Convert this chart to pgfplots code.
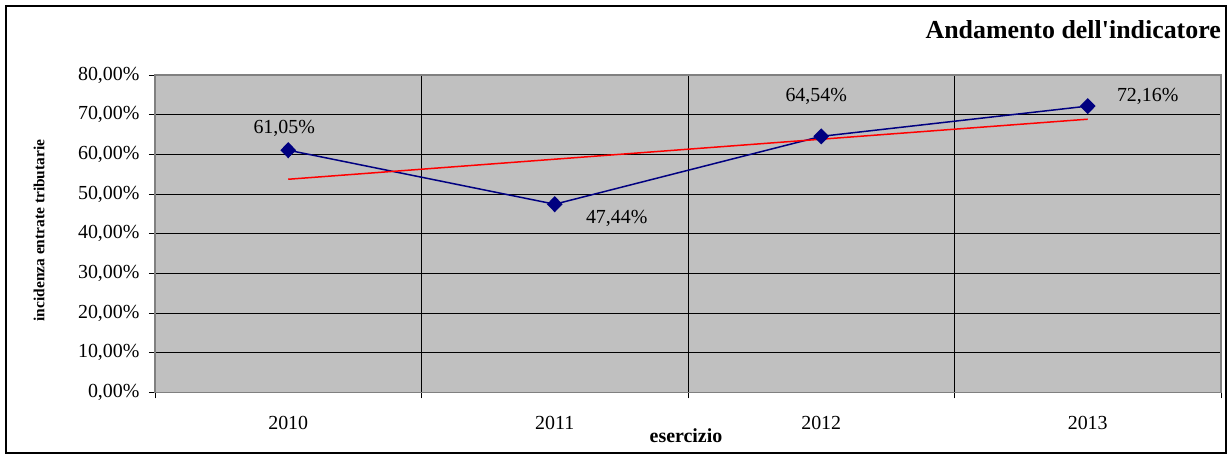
\documentclass[border=0pt]{standalone}
\usepackage{fontspec}
\setmainfont{Liberation Serif}
\usepackage{pgfplots}
\usepackage{pgfplotstable}
\pgfplotsset{compat=1.18}
\definecolor{plotgray}{HTML}{C0C0C0}
\definecolor{navyblue}{HTML}{000080}
\definecolor{bordergray}{HTML}{808080}

\pgfplotstableread{
x y dx dy
0 61.05 -4 22
1 47.44 62 -14
2 64.54 -5 40
3 72.16 60 10
}\datatable

\pgfplotstableread{
x y
0 53.73
1 58.78
2 63.82
3 68.86
}\trendtable

\begin{document}
\begin{tikzpicture}[x=1bp,y=1bp]
\useasboundingbox (-155,-62.5) rectangle (1073,392.5);
\draw[line width=1.5bp, black] (-149,-60.5) rectangle (1071,386.5);
\begin{axis}[
  at={(0,0)}, anchor=south west,
  scale only axis, width=1066bp, height=317.5bp,
  xmin=-0.5, xmax=3.5, ymin=0, ymax=80,
  axis background/.style={fill=plotgray},
  axis line style={bordergray, line width=1.5bp},
  xtick pos=bottom, ytick pos=left,
  xtick={-0.5,0.5,1.5,2.5,3.5}, xticklabels={},
  xmajorgrids,
  extra x ticks={0,1,2,3},
  extra x tick labels={2010,2011,2012,2013},
  extra x tick style={grid=none, major tick length=0pt, xticklabel style={yshift=-20bp}},
  ytick={0,10,...,80},
  ymajorgrids,
  major grid style={black, line width=0.8bp},
  tick align=outside, major tick length=6bp,
  tick style={black, line width=0.8bp},
  /pgf/number format/assume math mode=true,
  yticklabel={\pgfmathprintnumber[fixed,fixed zerofill,precision=2,use comma]{\tick}\%},
  ticklabel style={font=\fontsize{20}{24}\selectfont},
  yticklabel style={xshift=-6bp},
  clip=false,
]
\addplot[navyblue, line width=1.5bp, mark=diamond*, mark size=7bp,
  mark options={fill=navyblue, draw=navyblue, xscale=1.3},
  point meta=explicit,
  visualization depends on={\thisrow{dx} \as \dx},
  visualization depends on={\thisrow{dy} \as \dy},
  nodes near coords={\pgfmathprintnumber[fixed,fixed zerofill,precision=2,use comma]{\pgfplotspointmeta}\%},
  every node near coord/.append style={anchor=center, xshift=\dx bp, yshift=\dy bp, text=black, font=\fontsize{20}{24}\selectfont},
] table[x=x, y=y, meta=y] {\datatable};
\addplot[red, line width=1.5bp, mark=none] table[x=x, y=y] {\trendtable};
\end{axis}
\node[anchor=base east, font=\bfseries\fontsize{26}{30}\selectfont, inner sep=0pt] at (1066,353.5) {Andamento dell\textquotesingle indicatore};
\node[anchor=center, rotate=90, font=\bfseries\fontsize{15.5}{18}\selectfont, inner sep=0pt] at (-116,162) {incidenza entrate tributarie};
\node[anchor=base, font=\bfseries\fontsize{20}{24}\selectfont, inner sep=0pt] at (531,-50.5) {esercizio};
\end{tikzpicture}
\end{document}
